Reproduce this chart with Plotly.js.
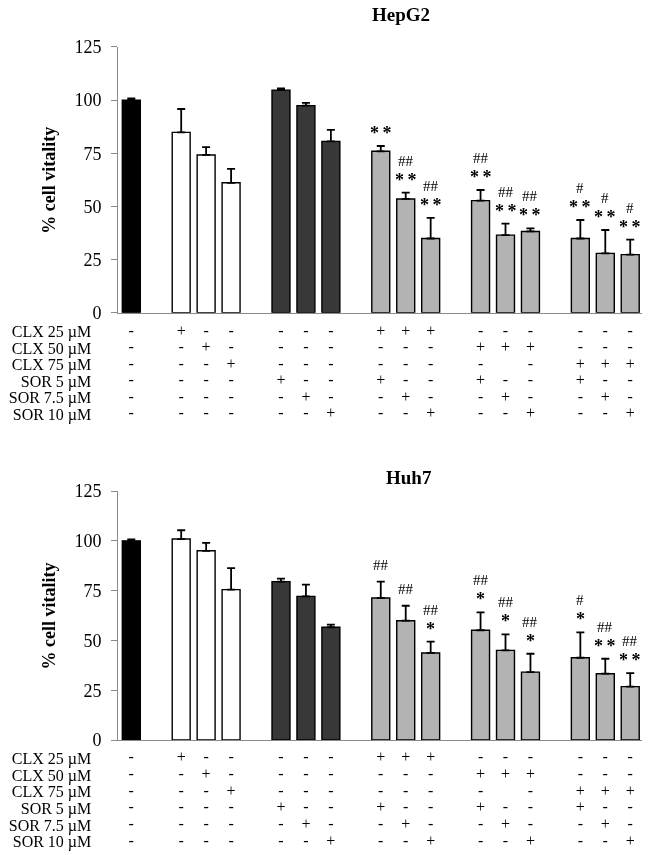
<!DOCTYPE html>
<html>
<head>
<meta charset="utf-8">
<script src="https://cdn.plot.ly/plotly-3.0.1.min.js"></script>
<style>
  html, body { margin: 0; padding: 0; background: #fff; }
  #chart { width: 648px; height: 855px; will-change: transform; }
</style>
</head>
<body>
<div id="chart"></div>
<script>
// treatment groups, bar i belongs to barGroup[i]
var groups = ['Control', 'CLX', 'SOR', 'CLX 25 + SOR', 'CLX 50 + SOR', 'CLX 75 + SOR'];
var barGroup = [0, 1, 1, 1, 2, 2, 2, 3, 3, 3, 4, 4, 4, 5, 5, 5];

var hepg2Mean = [100, 84.8, 74.2, 61.1, 104.7, 97.4, 80.6, 75.9, 53.5, 34.9, 52.7, 36.5, 38.2, 34.9, 27.9, 27.3];
var hepg2Err = [0.8, 11.0, 3.7, 6.5, 0.8, 1.3, 5.4, 2.5, 3.0, 9.7, 5.0, 5.4, 1.5, 8.7, 11.0, 7.1];
var hepg2Star = ['', '', '', '', '', '', '', '**', '**', '**', '**', '**', '**', '**', '**', '**'];
var hepg2Hash = ['', '', '', '', '', '', '', '', '##', '##', '##', '##', '##', '#', '#', '#'];

var huh7Mean = [100, 100.9, 95.0, 75.5, 79.5, 72.1, 56.6, 71.3, 59.9, 43.7, 55.1, 45.0, 34.1, 41.3, 33.3, 26.8];
var huh7Err = [0.7, 4.4, 4.0, 10.8, 1.5, 5.9, 1.3, 8.2, 7.5, 5.7, 9.0, 8.0, 9.2, 12.7, 7.5, 6.8];
var huh7Star = ['', '', '', '', '', '', '', '', '', '*', '*', '*', '*', '*', '**', '**'];
var huh7Hash = ['', '', '', '', '', '', '', '##', '##', '##', '##', '##', '##', '#', '##', '##'];

var yTicks = [0, 25, 50, 75, 100, 125];

var rowLabels = ['CLX 25 \u00b5M', 'CLX 50 \u00b5M', 'CLX 75 \u00b5M', 'SOR 5 \u00b5M', 'SOR 7.5 \u00b5M', 'SOR 10 \u00b5M'];
var rowSigns = [
  ['-', '+', '-', '-', '-', '-', '-', '+', '+', '+', '-', '-', '-', '-', '-', '-'],
  ['-', '-', '+', '-', '-', '-', '-', '-', '-', '-', '+', '+', '+', '-', '-', '-'],
  ['-', '-', '-', '+', '-', '-', '-', '-', '-', '-', '-', '', '-', '+', '+', '+'],
  ['-', '-', '-', '-', '+', '-', '-', '+', '-', '-', '+', '-', '-', '+', '-', '-'],
  ['-', '-', '-', '-', '-', '+', '-', '-', '+', '-', '-', '+', '-', '-', '+', '-'],
  ['-', '-', '-', '-', '-', '-', '+', '-', '-', '+', '-', '-', '+', '-', '-', '+']
];

var groupColors = ['#000000', '#ffffff', '#383838', '#b3b3b3', '#b3b3b3', '#b3b3b3'];
var serif = 'Liberation Serif, Times New Roman, serif';

// one empty slot between groups
var slots = barGroup.map(function (g, i) { return i + g; });

function barTrace(means, errs, xa, ya) {
  return {
    type: 'bar',
    x: slots,
    y: means,
    width: 0.72,
    xaxis: xa,
    yaxis: ya,
    marker: {
      color: barGroup.map(function (g) { return groupColors[g]; }),
      line: { color: '#000000', width: 1.4 }
    },
    error_y: {
      type: 'data',
      symmetric: false,
      array: errs,
      arrayminus: errs.map(function () { return 0; }),
      color: '#000000',
      thickness: 1.8,
      width: 4
    },
    hoverinfo: 'skip',
    showlegend: false
  };
}

function tableTrace(xa, ya) {
  var xs = [], ys = [], ts = [];
  rowSigns.forEach(function (row, r) {
    row.forEach(function (s, i) {
      xs.push(slots[i]);
      ys.push(r);
      ts.push(s);
    });
  });
  return {
    type: 'scatter',
    mode: 'text',
    x: xs,
    y: ys,
    text: ts,
    xaxis: xa,
    yaxis: ya,
    textposition: 'middle center',
    textfont: { family: serif, size: 16, color: '#000000' },
    cliponaxis: false,
    hoverinfo: 'skip',
    showlegend: false
  };
}

function sigAnnotations(means, errs, stars, hashes, xref, yref) {
  var out = [];
  means.forEach(function (m, i) {
    var lines = [];
    if (stars[i]) lines.push({ t: stars[i], star: true });
    if (hashes[i]) lines.push({ t: hashes[i], star: false });
    lines.forEach(function (ln, k) {
      out.push({
        xref: xref, yref: yref,
        x: slots[i], y: m + errs[i],
        text: ln.star ? '<b>' + ln.t.split('').join('\u2009') + '</b>' : ln.t,
        showarrow: false,
        xanchor: 'center', yanchor: 'bottom',
        yshift: (ln.star ? 1 : 7) + 15 * k,
        font: { family: serif, size: ln.star ? 18 : 15, color: '#000000' }
      });
    });
  });
  return out;
}

function valueAxis(domain, anchor) {
  return {
    domain: domain,
    anchor: anchor,
    range: [0, 125],
    tickvals: yTicks,
    ticktext: yTicks.map(String),
    ticks: 'outside',
    ticklen: 6,
    tickwidth: 1,
    tickcolor: '#8a8a8a',
    ticklabelstandoff: 6,
    showline: true,
    linecolor: '#8a8a8a',
    linewidth: 1.2,
    showgrid: false,
    zeroline: false,
    tickfont: { family: serif, size: 18, color: '#000000' },
    fixedrange: true
  };
}

function categoryAxis(anchor) {
  return {
    anchor: anchor,
    domain: [0.1826, 0.9903],
    range: [-0.52, 20.46],
    showline: true,
    linecolor: '#8a8a8a',
    linewidth: 1.2,
    ticks: '',
    showticklabels: false,
    showgrid: false,
    zeroline: false,
    fixedrange: true
  };
}

function tableAxis(domain, anchor) {
  return {
    domain: domain,
    anchor: anchor,
    range: [5.5, -0.5],
    tickvals: rowLabels.map(function (_, i) { return i; }),
    ticktext: rowLabels,
    ticks: '',
    ticklabelstandoff: 26,
    showline: false,
    showgrid: false,
    zeroline: false,
    tickfont: { family: serif, size: 16, color: '#000000' },
    fixedrange: true
  };
}

var data = [
  barTrace(hepg2Mean, hepg2Err, 'x', 'y'),
  tableTrace('x', 'y3'),
  barTrace(huh7Mean, huh7Err, 'x2', 'y2'),
  tableTrace('x2', 'y4')
];

var annotations = []
  .concat(sigAnnotations(hepg2Mean, hepg2Err, hepg2Star, hepg2Hash, 'x', 'y'))
  .concat(sigAnnotations(huh7Mean, huh7Err, huh7Star, huh7Hash, 'x2', 'y2'))
  .concat([
    { xref: 'paper', yref: 'paper', x: 0.619, y: 0.9825, text: '<b>HepG2</b>', showarrow: false,
      xanchor: 'center', yanchor: 'middle', font: { family: serif, size: 19, color: '#000' } },
    { xref: 'paper', yref: 'paper', x: 0.631, y: 0.441, text: '<b>Huh7</b>', showarrow: false,
      xanchor: 'center', yanchor: 'middle', font: { family: serif, size: 19, color: '#000' } },
    { xref: 'paper', yref: 'y domain', x: 0.0756, y: 0.5, text: '<b>% cell vitality</b>', showarrow: false,
      textangle: -90, xanchor: 'center', yanchor: 'middle', font: { family: serif, size: 18, color: '#000' } },
    { xref: 'paper', yref: 'y2 domain', x: 0.0756, y: 0.5, text: '<b>% cell vitality</b>', showarrow: false,
      textangle: -90, xanchor: 'center', yanchor: 'middle', font: { family: serif, size: 18, color: '#000' } }
  ]);

var layout = {
  width: 648,
  height: 855,
  margin: { l: 0, r: 0, t: 0, b: 0 },
  paper_bgcolor: '#ffffff',
  plot_bgcolor: '#ffffff',
  showlegend: false,
  xaxis: categoryAxis('y'),
  yaxis: valueAxis([0.6343, 0.9451], 'x'),
  yaxis3: tableAxis([0.5061, 0.6216], 'x'),
  xaxis2: categoryAxis('y2'),
  yaxis2: valueAxis([0.1345, 0.4257], 'x2'),
  yaxis4: tableAxis([0.0058, 0.1228], 'x2'),
  annotations: annotations
};

Plotly.newPlot('chart', data, layout, { displayModeBar: false, staticPlot: true });
</script>
</body>
</html>
